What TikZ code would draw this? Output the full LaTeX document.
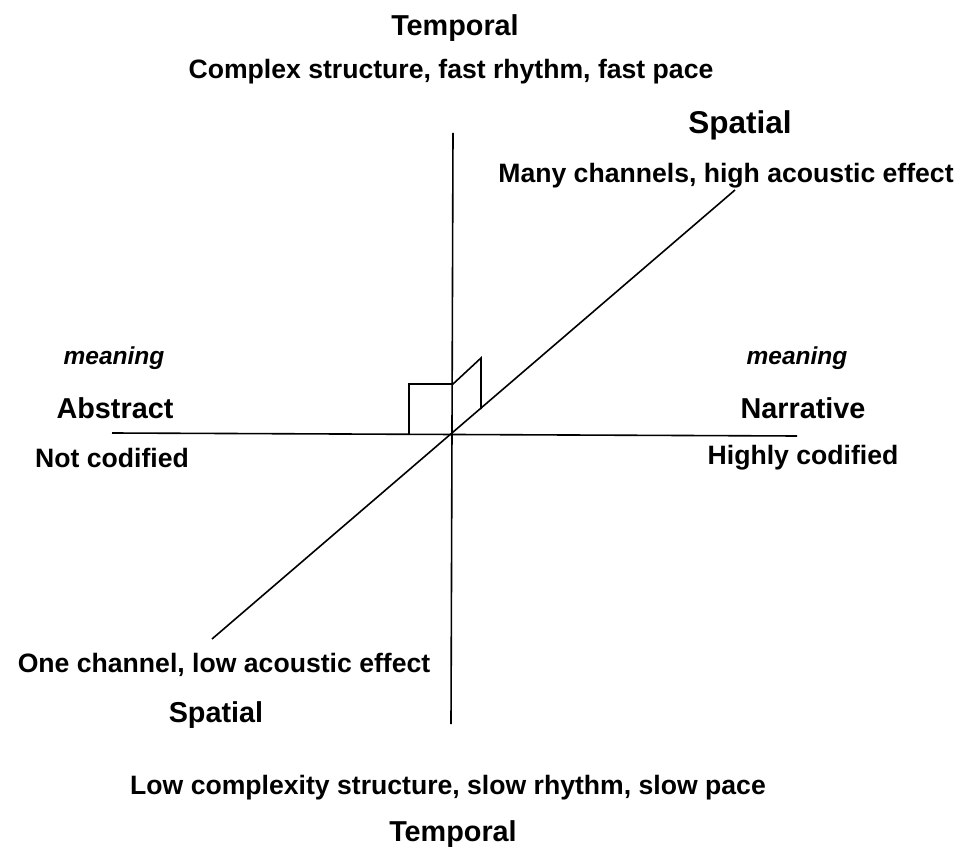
\documentclass[tikz,border=0pt]{standalone}
\usepackage{fontspec}
\setmainfont{Liberation Sans}
\usepackage{tikz}
\usetikzlibrary{calc}
\tikzstyle{title} = [font=\bfseries\fontsize{28.8}{34}\selectfont, text centered, inner sep=0pt]
\tikzstyle{bigtitle} = [font=\bfseries\fontsize{31.5}{36}\selectfont, text centered, inner sep=0pt]
\tikzstyle{caption} = [font=\bfseries\fontsize{26.6}{32}\selectfont, text centered, inner sep=0pt]
\tikzstyle{hint} = [font=\bfseries\itshape\fontsize{24.5}{30}\selectfont, text centered, inner sep=0pt]
\tikzstyle{axis} = [line width=1.6pt]

\begin{document}
\begin{tikzpicture}[x=1pt, y=-1pt]
            \useasboundingbox (0,0) rectangle (959,850);
            % axes
            \coordinate (top) at (453,133);
            \coordinate (bottom) at (451,724);
            \coordinate (left) at (112,433);
            \coordinate (right) at (797,436);
            \coordinate (front) at (212,639);
            \coordinate (back) at (735,190);
            \draw [axis] (top) -- (bottom);
            \draw [axis] (left) -- (right);
            \draw [axis] (front) -- (back);
            % little box at the origin
            \coordinate (b1) at (409,434);
            \coordinate (b2) at (409,384);
            \coordinate (b3) at (453,384);
            \coordinate (b4) at (481,358);
            \coordinate (b5) at (481,409);
            \draw [axis] (b1) -- (b2) -- (b3) -- (b4) -- (b5);
            % labels
            \node (temporal-top) [title] at (455,28) {Temporal};
            \node (complex) [caption] at (451,72) {Complex structure, fast rhythm, fast pace};
            \node (spatial-top) [bigtitle] at (740,125) {Spatial};
            \node (many) [caption] at (726,176) {Many channels, high acoustic effect};
            \node (meaning-left) [hint] at (114,358) {meaning};
            \node (abstract) [title] at (115,408) {Abstract};
            \node (notcod) [caption] at (112,458) {Not codified};
            \node (meaning-right) [hint] at (797,358) {meaning};
            \node (narrative) [title] at (803,408) {Narrative};
            \node (highcod) [caption] at (803,458) {Highly codified};
            \node (one) [caption] at (224,665) {One channel, low acoustic effect};
            \node (spatial-bottom) [title] at (216,715) {Spatial};
            \node (low) [caption] at (448,788) {Low complexity structure, slow rhythm, slow pace};
            \node (temporal-bottom) [title] at (453,834) {Temporal};
        \end{tikzpicture}
\end{document}
